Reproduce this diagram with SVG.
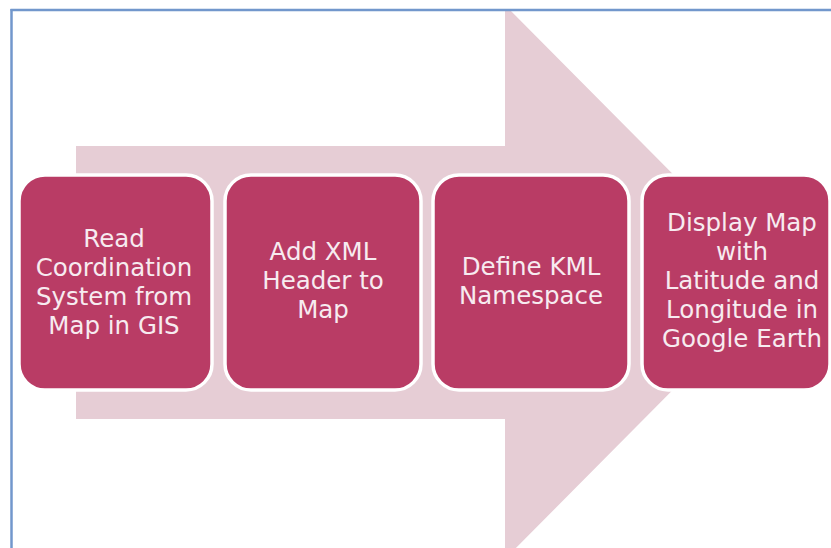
<svg xmlns="http://www.w3.org/2000/svg" width="831" height="548" viewBox="0 0 831 548">
  <defs>
    <clipPath id="frameClip">
      <rect x="12" y="11" width="830" height="540"/>
    </clipPath>
    <style>
      .step { fill: #b93c65; stroke: #ffffff; stroke-width: 3.5; }
      .label { font-family: "DejaVu Sans", Verdana, sans-serif; font-size: 24.5px; fill: #f7ebf0; text-anchor: middle; }
      .frame { stroke: #7297cc; stroke-width: 2.5; fill: none; }
    </style>
  </defs>

  <rect width="831" height="548" fill="#ffffff"/>

  <!-- background process arrow -->
  <g id="process-arrow" clip-path="url(#frameClip)">
    <polygon points="76,146 505,146 505,5 780,282 505,559 505,419 76,419" fill="#e6cdd5"/>
  </g>

  <!-- frame -->
  <g id="frame">
    <line class="frame" x1="10.5" y1="10" x2="831" y2="10"/>
    <line class="frame" x1="11.5" y1="9" x2="11.5" y2="548"/>
  </g>

  <g id="connectors"></g>

  <g id="step-1">
    <rect class="step" x="19" y="175" width="193" height="215" rx="26"/>
    <text class="label" x="114" y="247">Read</text>
    <text class="label" x="114" y="276">Coordination</text>
    <text class="label" x="114" y="305">System from</text>
    <text class="label" x="114" y="334">Map in GIS</text>
  </g>

  <g id="step-2">
    <rect class="step" x="225" y="175" width="196" height="215" rx="26"/>
    <text class="label" x="323" y="260">Add XML</text>
    <text class="label" x="323" y="289">Header to</text>
    <text class="label" x="323" y="318">Map</text>
  </g>

  <g id="step-3">
    <rect class="step" x="433" y="175" width="196" height="215" rx="26"/>
    <text class="label" x="531" y="275">Define KML</text>
    <text class="label" x="531" y="304">Namespace</text>
  </g>

  <g id="step-4">
    <rect class="step" x="642" y="175" width="188" height="215" rx="26"/>
    <text class="label" x="742" y="231">Display Map</text>
    <text class="label" x="742" y="260">with</text>
    <text class="label" x="742" y="289">Latitude and</text>
    <text class="label" x="742" y="318">Longitude in</text>
    <text class="label" x="742" y="347">Google Earth</text>
  </g>
</svg>
